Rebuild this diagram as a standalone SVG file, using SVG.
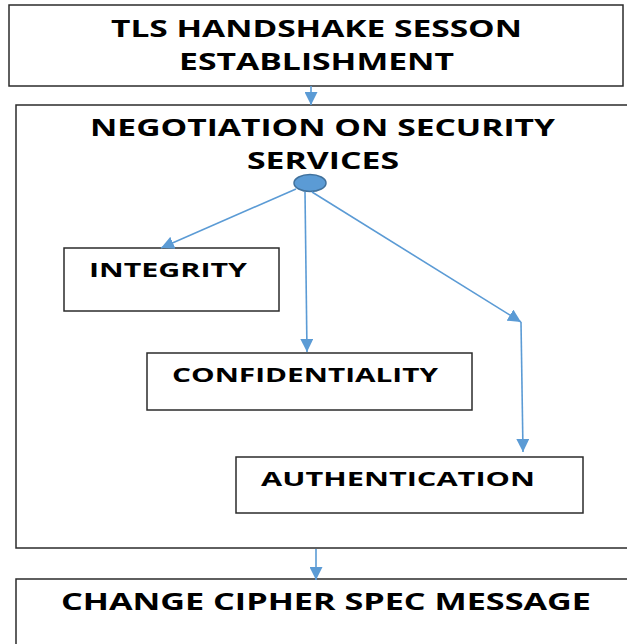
<svg xmlns="http://www.w3.org/2000/svg" width="627" height="644" viewBox="0 0 627 644">
<style>
.box{fill:#fff;stroke:#2b2b2b;stroke-width:1.5}
.t{font-family:"Open Sans","Liberation Sans",sans-serif;font-weight:bold;fill:#000}
.c{fill:none;stroke:#5B9BD5;stroke-width:1.6}
</style>
<defs>
<marker id="ah2" viewBox="0 0 10 10" refX="10" refY="5" markerWidth="13" markerHeight="13" markerUnits="userSpaceOnUse" orient="auto">
<path d="M0,0 L10,5 L0,10 z" fill="#5B9BD5"/>
</marker>
</defs>
<rect width="627" height="644" fill="#fff"/>
<g id="tls">
<rect class="box" x="9" y="5" width="614" height="81"/>
<text class="t" x="111" y="37" font-size="22.5" textLength="411" lengthAdjust="spacingAndGlyphs">TLS HANDSHAKE SESSON</text>
<text class="t" x="179" y="70" font-size="22.5" textLength="275" lengthAdjust="spacingAndGlyphs">ESTABLISHMENT</text>
</g>
<g id="negotiation">
<rect class="box" x="16" y="105" width="630" height="443"/>
<text class="t" x="90" y="136" font-size="22.5" textLength="465" lengthAdjust="spacingAndGlyphs">NEGOTIATION ON SECURITY</text>
<text class="t" x="247" y="169" font-size="22.5" textLength="152" lengthAdjust="spacingAndGlyphs">SERVICES</text>
<ellipse cx="310" cy="183" rx="16" ry="8.5" fill="#5B9BD5" stroke="#41719C" stroke-width="1.5"/>
</g>
<g id="integrity">
<rect class="box" x="64" y="248" width="215" height="63"/>
<text class="t" x="89" y="277" font-size="19.5" textLength="158" lengthAdjust="spacingAndGlyphs">INTEGRITY</text>
</g>
<g id="confidentiality">
<rect class="box" x="147" y="353" width="325" height="57"/>
<text class="t" x="172" y="382" font-size="19" textLength="266" lengthAdjust="spacingAndGlyphs">CONFIDENTIALITY</text>
</g>
<g id="authentication">
<rect class="box" x="236" y="457" width="347" height="56"/>
<text class="t" x="261" y="486" font-size="19.5" textLength="274" lengthAdjust="spacingAndGlyphs">AUTHENTICATION</text>
</g>
<g id="changecipher">
<rect class="box" x="16" y="579" width="630" height="80"/>
<text class="t" x="61" y="610" font-size="22.5" textLength="530" lengthAdjust="spacingAndGlyphs">CHANGE CIPHER SPEC MESSAGE</text>
</g>
<g id="connectors">
<path class="c" d="M311,86 L311,105" marker-end="url(#ah2)"/>
<path class="c" d="M296,189 L161,248" marker-end="url(#ah2)"/>
<path class="c" d="M305,192 L307,352" marker-end="url(#ah2)"/>
<path class="c" d="M312,192 L521,322" marker-end="url(#ah2)"/>
<path class="c" d="M521,322 L523,452" marker-end="url(#ah2)"/>
<path class="c" d="M316,549 L316,580" marker-end="url(#ah2)"/>
</g>
</svg>
